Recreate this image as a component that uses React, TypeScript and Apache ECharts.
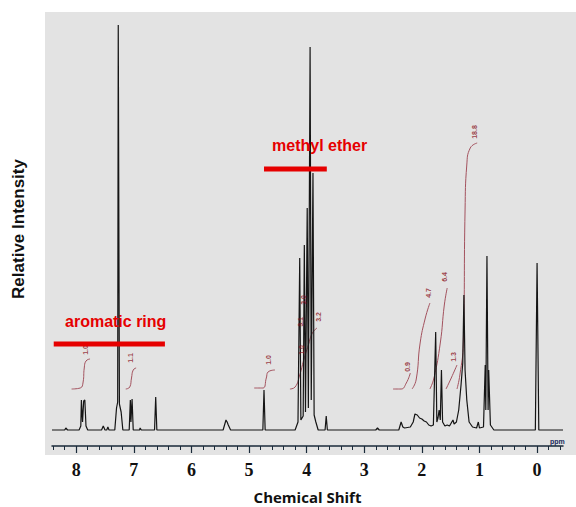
import React, { useEffect, useRef } from "react";
import * as echarts from "echarts";

// ---- Spectrum trace (chemical shift in ppm, relative intensity) ----
const spectrumShift = [
  8.42, 8.2, 8.18, 8.15, 7.95, 7.92, 7.91, 7.89, 7.87, 7.85, 7.83, 7.8, 7.56, 7.53, 7.5, 7.47, 7.45, 7.43,
  7.33, 7.3, 7.28, 7.27, 7.25, 7.22, 7.19, 7.08, 7.06, 7.05, 7.03, 7.01, 6.9, 6.89, 6.87, 6.64, 6.62, 6.6,
  5.45, 5.42, 5.4, 5.38, 5.36, 5.32, 4.76, 4.74, 4.72, 4.2, 4.15, 4.12, 4.1, 4.06, 4.04, 4.02, 3.99, 3.97,
  3.94, 3.92, 3.89, 3.87, 3.84, 3.8, 3.68, 3.66, 3.64, 2.8, 2.77, 2.74, 2.4, 2.36, 2.33, 2.3, 2.2, 2.15,
  2.12, 2.08, 2.04, 2.0, 1.96, 1.92, 1.88, 1.84, 1.8, 1.76, 1.74, 1.72, 1.7, 1.68, 1.66, 1.64, 1.6, 1.56,
  1.52, 1.48, 1.46, 1.44, 1.4, 1.36, 1.32, 1.29, 1.27, 1.25, 1.22, 1.18, 1.12, 1.05, 1.02, 1.0, 0.93, 0.9,
  0.89, 0.87, 0.85, 0.84, 0.81, 0.75, 0.03, 0.0, -0.03, -0.45,
];
const spectrumIntensity = [
  0, 0, 2, 0, 0, 4, 30, 8, 29, 30, 4, 0, 0, 4, 0, 0, 3, 0,
  0, 22, 28, 405, 26, 18, 0, 0, 30, 8, 31, 0, 0, 2, 0, 0, 33, 0,
  0, 6, 10, 8, 5, 0, 0, 40, 0, 0, 8, 172, 10, 14, 185, 18, 222, 22,
  383, 30, 257, 15, 8, 0, 0, 14, 0, 0, 2, 0, 0, 8, 3, 2, 3, 8,
  16, 15, 12, 11, 9, 8, 5, 4, 5, 98, 8, 12, 20, 10, 60, 8, 4, 5,
  4, 8, 10, 6, 8, 20, 45, 67, 135, 60, 30, 8, 3, 2, 8, 2, 3, 65,
  20, 174, 20, 60, 5, 0, 0, 167, 0, 0,
];

// ---- Integration curves ([ppm, level]) ----
const integral1 = [[8.08, 41], [7.93, 42], [7.88, 48], [7.86, 62], [7.83, 69], [7.76, 71]];
const integral2 = [[7.14, 41], [7.07, 43], [7.04, 52], [7.01, 60], [6.96, 62]];
const integral3 = [[4.91, 42], [4.76, 42], [4.7, 52], [4.67, 58], [4.55, 60]];
const integral4 = [[4.29, 41], [4.2, 43], [4.12, 55], [4.05, 70], [3.97, 85], [3.9, 97], [3.82, 102]];
const integral5 = [[2.5, 41], [2.36, 41], [2.27, 47], [2.2, 57]];
const integral6 = [[2.17, 41], [2.1, 50], [2.03, 87], [1.94, 112], [1.86, 127]];
const integral7 = [[1.86, 41], [1.79, 52], [1.68, 87], [1.61, 125], [1.56, 142]];
const integral8 = [[1.58, 41], [1.49, 52], [1.39, 65]];
const integral9 = [[1.39, 41], [1.34, 55], [1.28, 87], [1.25, 220], [1.22, 265], [1.16, 282], [1.04, 287]];

// ---- Integration values ----
const integralLabelShift = [7.84, 7.05, 4.67, 4.11, 4.09, 4.06, 3.8, 2.25, 1.88, 1.61, 1.45, 1.09];
const integralLabelLevel = [80, 72, 70, 108, 80, 130, 113, 63, 137, 153, 73, 298];
const integralLabelText = ["1.0", "1.1", "1.0", "3.1", "1.0", "3.0", "3.2", "0.9", "4.7", "6.4", "1.3", "18.8"];

// ---- Annotations ----
const annotationNames = ["aromatic ring", "methyl ether"];
const annotationFrom = [8.39, 4.74];
const annotationTo = [6.46, 3.65];
const annotationLevel = [86, 261];

// ---- Axis ----
const tickLabels = [8, 7, 6, 5, 4, 3, 2, 1, 0];
const minorTickValues = [
  8.4, 8.2, 7.8, 7.6, 7.4, 7.2, 6.8, 6.6, 6.4, 6.2, 5.8, 5.6, 5.4, 5.2, 4.8, 4.6, 4.4, 4.2,
  3.8, 3.6, 3.4, 3.2, 2.8, 2.6, 2.4, 2.2, 1.8, 1.6, 1.4, 1.2, 0.8, 0.6, 0.4, 0.2, -0.2, -0.4,
];
const xMin = -0.45;
const xMax = 8.42;

export default function App() {
  const ref = useRef<HTMLDivElement>(null);

  useEffect(() => {
    if (!ref.current) return;
    const chart = echarts.init(ref.current, undefined, { renderer: "svg" });

    const spectrum = spectrumShift.map((s, i) => [s, spectrumIntensity[i]]);
    const integrals = [integral1, integral2, integral3, integral4, integral5, integral6, integral7, integral8, integral9];
    const integralColor = "#a3525e";

    const series: any[] = [
      {
        type: "line",
        data: spectrum,
        xAxisIndex: 0,
        showSymbol: false,
        symbol: "none",
        lineStyle: { color: "#151515", width: 1.2 },
        z: 3,
      },
      ...integrals.map((d) => ({
        type: "line",
        data: d,
        xAxisIndex: 0,
        smooth: true,
        symbol: "none",
        lineStyle: { color: integralColor, width: 1 },
        z: 2,
      })),
      {
        type: "scatter",
        xAxisIndex: 0,
        symbolSize: 0,
        data: integralLabelShift.map((s, i) => [s, integralLabelLevel[i], integralLabelText[i]]),
        label: {
          show: true,
          position: "inside",
          rotate: 90,
          formatter: (p: any) => p.data[2],
          color: "#8a1020",
          fontSize: 7,
          fontWeight: "bold",
          fontFamily: "Liberation Sans",
        },
        z: 4,
      },
      ...annotationNames.map((name, i) => ({
        type: "line",
        xAxisIndex: 0,
        name,
        data: [
          [annotationFrom[i], annotationLevel[i]],
          [annotationTo[i], annotationLevel[i]],
        ],
        symbol: "none",
        lineStyle: { color: "#e60000", width: 5 },
        z: 5,
      })),
    ];

    const axisColor = "#1a2a3a";

    chart.setOption({
      animation: false,
      backgroundColor: "#ffffff",
      graphic: [
        {
          type: "rect",
          z: -10,
          shape: { x: 45, y: 12, width: 531, height: 443 },
          style: { fill: "#e3e3e3" },
          silent: true,
        },
        {
          type: "text",
          left: 65,
          top: 313,
          z: 10,
          style: {
            text: annotationNames[0],
            fill: "#e60000",
            font: "bold 16px 'Liberation Sans', Arial, sans-serif",
          },
        },
        {
          type: "text",
          left: 272,
          top: 137,
          z: 10,
          style: {
            text: annotationNames[1],
            fill: "#e60000",
            font: "bold 16px 'Liberation Sans', Arial, sans-serif",
          },
        },
        {
          type: "text",
          left: 550,
          top: 438,
          z: 10,
          style: {
            text: "ppm",
            fill: "#1a2a5a",
            font: "bold 7px 'Liberation Sans', Arial, sans-serif",
          },
        },
      ],
      grid: {
        left: 52,
        right: 13,
        top: 12,
        bottom: 61,
        containLabel: false,
        outerBoundsMode: "none",
      },
      xAxis: [
        {
          type: "value",
          min: xMin,
          max: xMax,
          inverse: true,
          position: "bottom",
          name: "Chemical Shift",
          nameLocation: "middle",
          nameGap: 43,
          nameTextStyle: {
            fontFamily: "'Open Sans', 'Liberation Sans', sans-serif",
            fontWeight: "bold",
            fontSize: 15,
            lineHeight: 16,
            color: "#111",
          },
          axisLine: { show: true, onZero: false, lineStyle: { color: axisColor, width: 1.5 } },
          axisTick: {
            show: true,
            customValues: tickLabels,
            length: 7,
            lineStyle: { color: axisColor, width: 1.2 },
          },
          axisLabel: {
            customValues: tickLabels,
            margin: 15,
            fontFamily: "'Liberation Serif', serif",
            fontWeight: "bold",
            fontSize: 18,
            color: "#111",
          },
          splitLine: { show: false },
        },
        {
          type: "value",
          min: xMin,
          max: xMax,
          inverse: true,
          position: "bottom",
          offset: 0,
          axisLine: { show: false, onZero: false },
          axisTick: {
            show: true,
            customValues: minorTickValues,
            length: 4,
            lineStyle: { color: axisColor, width: 1 },
          },
          axisLabel: { show: false },
          splitLine: { show: false },
        },
      ],
      yAxis: {
        type: "value",
        min: -16,
        max: 418,
        name: "Relative Intensity",
        nameLocation: "middle",
        nameGap: 25,
        nameRotate: 90,
        nameTextStyle: {
          fontFamily: "'Liberation Sans', Arial, sans-serif",
          fontSize: 17,
          fontWeight: "bold",
          color: "#111",
        },
        axisLine: { show: false },
        axisTick: { show: false },
        axisLabel: { show: false },
        splitLine: { show: false },
      },
      series,
    });

    return () => chart.dispose();
  }, []);

  return (
    <div
      ref={ref}
      style={{ position: "absolute", left: 0, top: 0, width: 576, height: 507 }}
    />
  );
}
